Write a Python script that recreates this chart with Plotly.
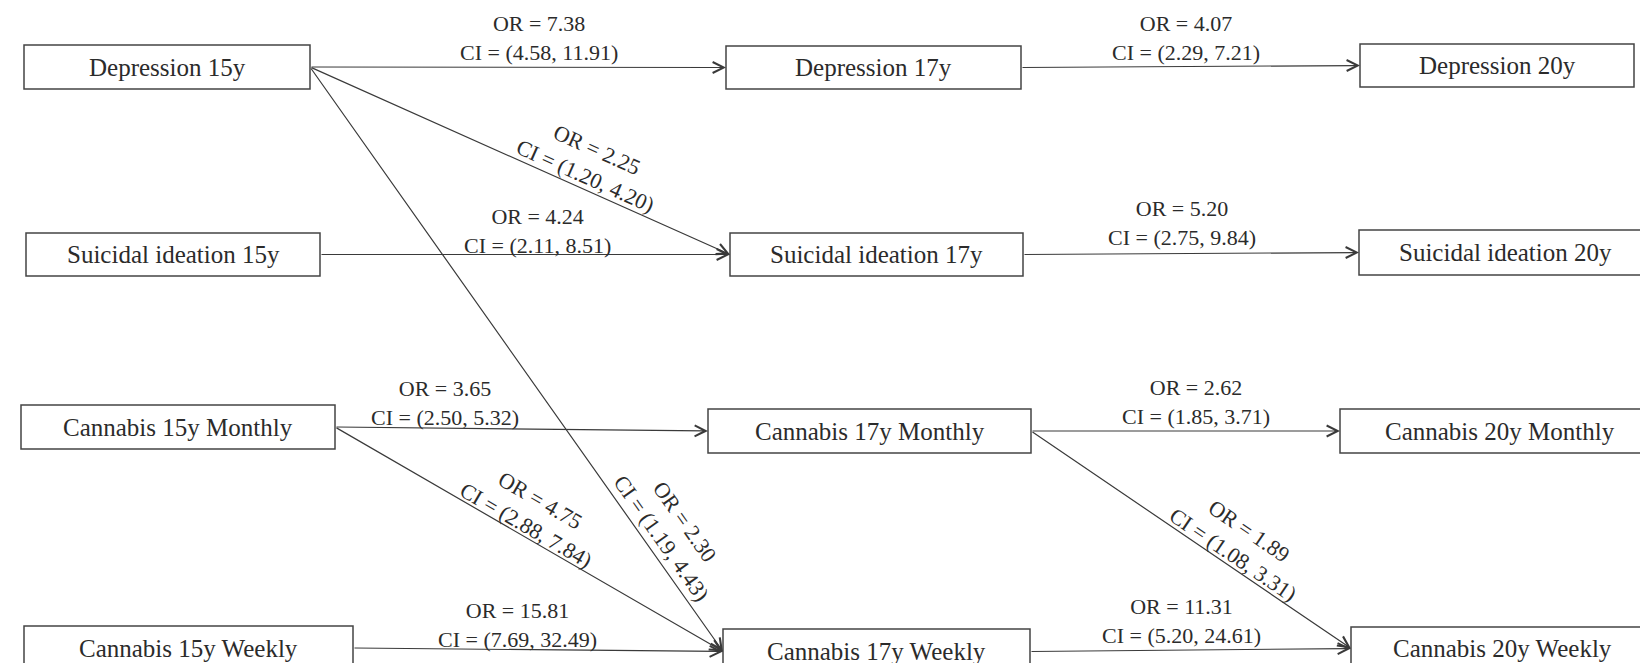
import plotly.graph_objects as go

# ---------------- data ----------------
node_names = [
    "Depression 15y", "Depression 17y", "Depression 20y",
    "Suicidal ideation 15y", "Suicidal ideation 17y", "Suicidal ideation 20y",
    "Cannabis 15y Monthly", "Cannabis 17y Monthly", "Cannabis 20y Monthly",
    "Cannabis 15y Weekly", "Cannabis 17y Weekly", "Cannabis 20y Weekly",
]

edge_source = [0, 1, 0, 3, 4, 0, 6, 6, 7, 7, 9, 10]
edge_target = [1, 2, 4, 4, 5, 10, 7, 10, 8, 11, 10, 11]
odds_ratio  = [7.38, 4.07, 2.25, 4.24, 5.20, 2.30, 3.65, 4.75, 2.62, 1.89, 15.81, 11.31]
ci_low      = [4.58, 2.29, 1.20, 2.11, 2.75, 1.19, 2.50, 2.88, 1.85, 1.08, 7.69, 5.20]
ci_high     = [11.91, 7.21, 4.20, 8.51, 9.84, 4.43, 5.32, 7.84, 3.71, 3.31, 32.49, 24.61]

# ---------------- layout (pixel geometry of the diagram) ----------------
box_x0 = [16, 718, 1352, 18, 722, 1351, 13, 700, 1332, 16, 715, 1343]
box_x1 = [302, 1013, 1626, 312, 1015, 1643, 327, 1023, 1652, 345, 1022, 1645]
box_y0 = [37, 38, 36, 225, 225, 222, 397, 401, 401, 618, 621, 619]
box_y1 = [81, 81, 79, 268, 268, 267, 441, 445, 445, 662, 666, 662]

label_x = [531, 1178, 583, 529, 1174, 665, 437, 525, 1188, 1233, 509, 1173]
label_y = [30, 30, 155, 223, 215, 522, 395, 505, 394, 535, 617, 613]

W, H = 1648, 663
FONT = "Liberation Serif, Times New Roman, serif"
TXT = "#2b2b2b"
LINE = "#3a3a3a"

fig = go.Figure()
fig.add_trace(go.Scatter(x=[None], y=[None], mode="markers", showlegend=False, hoverinfo="skip"))

# boxes
for i, name in enumerate(node_names):
    fig.add_shape(type="rect", xref="x", yref="y",
                  x0=box_x0[i], x1=box_x1[i], y0=box_y0[i], y1=box_y1[i],
                  line=dict(color="#444444", width=1.5), fillcolor="white", layer="below")
    fig.add_annotation(x=(box_x0[i] + box_x1[i]) / 2, y=(box_y0[i] + box_y1[i]) / 2,
                       xref="x", yref="y", text=name, showarrow=False,
                       font=dict(family=FONT, size=25, color=TXT),
                       xanchor="center", yanchor="middle")

# edges with arrows and labels
import math
for k in range(len(edge_source)):
    s, t = edge_source[k], edge_target[k]
    tx, ty = box_x1[s], (box_y0[s] + box_y1[s]) / 2
    hx, hy = box_x0[t], (box_y0[t] + box_y1[t]) / 2
    fig.add_annotation(x=hx, y=hy, ax=tx, ay=ty, xref="x", yref="y", axref="x", ayref="y",
                       text="", showarrow=True, arrowhead=5, arrowsize=1.8, arrowwidth=1.2,
                       arrowcolor=LINE, standoff=0, startstandoff=0)
    ang = math.degrees(math.atan2(hy - ty, hx - tx))
    if abs(ang) < 2:
        ang = 0
    txt = "OR = {:.2f}<br>CI = ({:.2f}, {:.2f})".format(odds_ratio[k], ci_low[k], ci_high[k])
    fig.add_annotation(x=label_x[k], y=label_y[k], xref="x", yref="y", text=txt,
                       showarrow=False, textangle=ang,
                       font=dict(family=FONT, size=22, color=TXT),
                       xanchor="center", yanchor="middle", align="center")

fig.update_layout(
    width=W, height=H, margin=dict(l=0, r=0, t=0, b=0),
    paper_bgcolor="white", plot_bgcolor="white", showlegend=False,
    xaxis=dict(range=[0, W], visible=False, fixedrange=True),
    yaxis=dict(range=[H, 0], visible=False, fixedrange=True),
)

fig.write_html("out.html", config={"displayModeBar": False})
